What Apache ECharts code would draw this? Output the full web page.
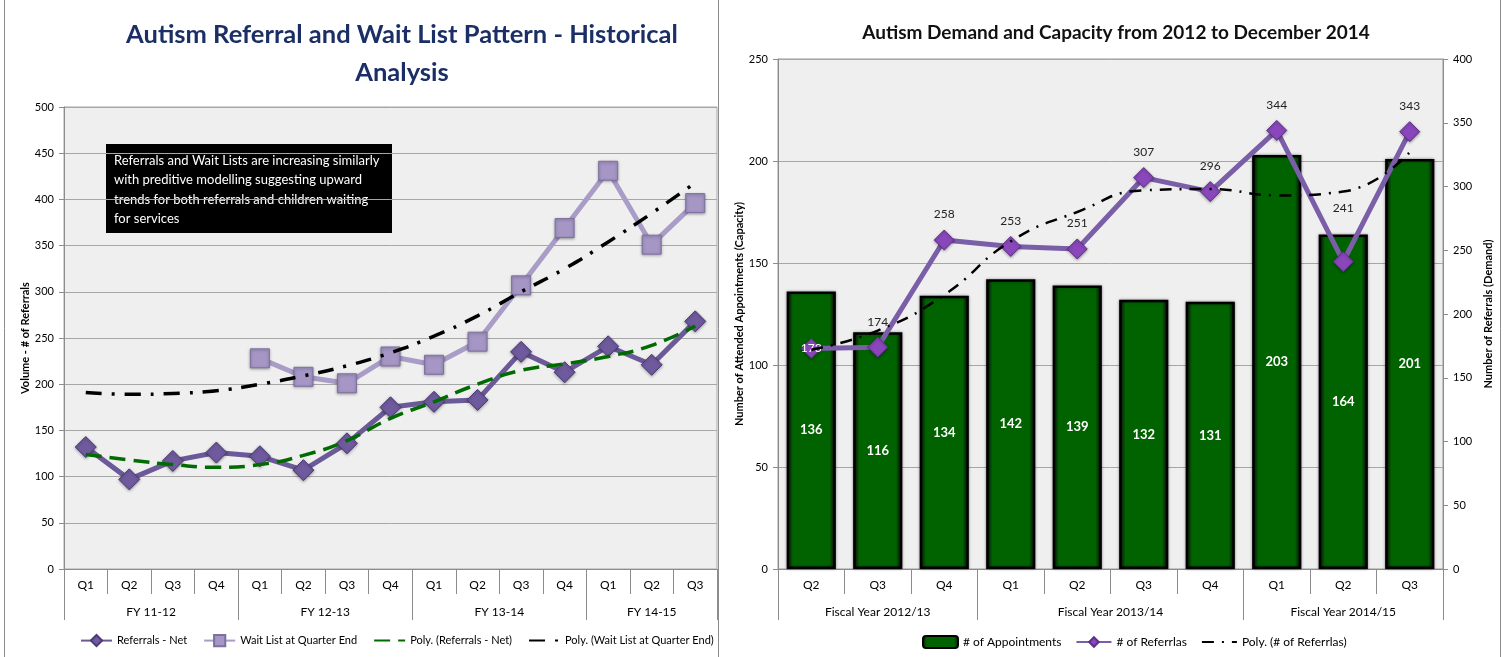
<!DOCTYPE html>
<html>
<head>
<meta charset="utf-8">
<script src="https://cdn.jsdelivr.net/npm/echarts@6/dist/echarts.min.js"></script>
<style>
html,body{margin:0;padding:0;background:#fff;}
#c{width:1506px;height:657px;}
</style>
</head>
<body>
<div id="c"></div>
<script>
// ---------- Left chart data ----------
const leftTitle = 'Autism Referral and Wait List Pattern - Historical\nAnalysis';
const leftQuarters = ['Q1','Q2','Q3','Q4','Q1','Q2','Q3','Q4','Q1','Q2','Q3','Q4','Q1','Q2','Q3'];
const leftGroups = ['FY 11-12','FY 12-13','FY 13-14','FY 14-15'];
const leftGroupSizes = [4,4,4,3];
const referralsNet = [132,97,117,126,122,107,136,175,181,183,235,213,241,221,268];
const waitList = [null,null,null,null,228,208,201,230,221,246,307,369,431,351,396];
const polyReferrals = [124,118,113,110,113,123,139,163,181,200,215,222,230,242,263];
const polyWaitList = [191,189,190,193,200,209,220,234,252,274,300,325,354,385,418];
const leftYTicks = {min:0, max:500, interval:50};
const noteLines = ['Referrals and Wait Lists are increasing similarly','with preditive modelling suggesting upward','trends for both referrals and children waiting','for services'];

// ---------- Right chart data ----------
const rightTitle = 'Autism Demand and Capacity from 2012 to December 2014';
const rightQuarters = ['Q2','Q3','Q4','Q1','Q2','Q3','Q4','Q1','Q2','Q3'];
const rightGroups = ['Fiscal Year 2012/13','Fiscal Year 2013/14','Fiscal Year 2014/15'];
const rightGroupSizes = [3,4,3];
const appointments = [136,116,134,142,139,132,131,203,164,201];
const referralsCount = [173,174,258,253,251,307,296,344,241,343];
const polyReferralsCount = [172,187,215,257,280,297,298,293,296,327];
const rightYLeft = {min:0, max:250, interval:50};
const rightYRight = {min:0, max:400, interval:50};

const FONT = 'Lato, "Open Sans", sans-serif';

function groupInfo(sizes){
  const bounds=[0], centers=[];
  let acc=0;
  sizes.forEach(s=>{centers.push(acc+s/2); acc+=s; bounds.push(acc);});
  return {bounds, centers, total:acc};
}
const lg = groupInfo(leftGroupSizes);
const rg = groupInfo(rightGroupSizes);

function groupAxis(gridIndex, info, names){
  return {
    type:'value', gridIndex, min:0, max:info.total, position:'bottom',
    axisLine:{show:false}, splitLine:{show:false},
    axisTick:{show:true, customValues:info.bounds, length:51, lineStyle:{color:'#8c8c8c'}},
    axisLabel:{customValues:info.centers, margin:37, fontSize:12, color:'#000', fontFamily:FONT,
      formatter:(v)=>{const i=info.centers.findIndex(c=>Math.abs(c-v)<1e-6); return i>=0?names[i]:'';}}
  };
}
function catAxis(gridIndex, data){
  return {
    type:'category', gridIndex, data, boundaryGap:true,
    axisLine:{show:true, lineStyle:{color:'#8c8c8c'}},
    axisTick:{show:true, interval:0, length:25, lineStyle:{color:'#8c8c8c'}},
    axisLabel:{interval:0, margin:10, fontSize:12, color:'#000', fontFamily:FONT}
  };
}

const chart = echarts.init(document.getElementById('c'));
const barGradient = new echarts.graphic.LinearGradient(0,0,1,0,[
  {offset:0,color:'#000a00'},{offset:0.06,color:'#0a300a'},{offset:0.13,color:'#006300'},
  {offset:0.87,color:'#006300'},{offset:0.94,color:'#0a300a'},{offset:1,color:'#000a00'}]);

const hideSym = {opacity:0};

const option = {
  backgroundColor:'#ffffff',
  animation:false,
  title:[
    {text:leftTitle, left:397, top:11, textAlign:'center',
     textStyle:{fontFamily:FONT, fontSize:25.5, fontWeight:'bold', color:'#1b2f66', lineHeight:38}},
    {text:rightTitle, left:1111, top:18, textAlign:'center',
     textStyle:{fontFamily:FONT, fontSize:19, fontWeight:'bold', color:'#111'}}
  ],
  legend:[
    {data:['Referrals - Net','Wait List at Quarter End',
           {name:'Poly. (Referrals - Net)', itemStyle:hideSym},
           {name:'Poly. (Wait List at Quarter End)', itemStyle:hideSym}],
     left:75, top:629, itemWidth:31, itemHeight:14, itemGap:16,
     textStyle:{fontFamily:FONT, fontSize:11, color:'#000'}},
    {data:['# of Appointments','# of Referrlas',{name:'Poly. (# of Referrlas)', itemStyle:hideSym}],
     left:917, top:630, itemWidth:35, itemHeight:12, itemGap:14,
     textStyle:{fontFamily:FONT, fontSize:12, color:'#000'}}
  ],
  grid:[
    {left:64, right:789, top:107, bottom:88, show:true, backgroundColor:'#efefef', borderColor:'#a6a6a6', borderWidth:1},
    {left:778, right:63, top:59, bottom:88, show:true, backgroundColor:'#efefef', borderColor:'#999', borderWidth:1}
  ],
  xAxis:[
    catAxis(0, leftQuarters),
    groupAxis(0, lg, leftGroups),
    catAxis(1, rightQuarters),
    groupAxis(1, rg, rightGroups)
  ],
  yAxis:[
    {type:'value', gridIndex:0, min:leftYTicks.min, max:leftYTicks.max, interval:leftYTicks.interval,
     name:'Volume - # of Referrals', nameLocation:'middle', nameGap:30, nameRotate:90,
     nameTextStyle:{fontFamily:FONT, fontSize:11, fontWeight:'bold', color:'#000'},
     axisLine:{show:true, lineStyle:{color:'#8c8c8c'}}, axisTick:{show:true, length:5, lineStyle:{color:'#8c8c8c'}},
     axisLabel:{fontFamily:FONT, fontSize:11, color:'#000', margin:10},
     splitLine:{show:true, lineStyle:{color:'#a6a6a6'}}},
    {type:'value', gridIndex:1, min:rightYLeft.min, max:rightYLeft.max, interval:rightYLeft.interval,
     name:'Number of Attended Appointments (Capacity)', nameLocation:'middle', nameGap:32, nameRotate:90,
     nameTextStyle:{fontFamily:FONT, fontSize:11, fontWeight:'bold', color:'#000'},
     axisLine:{show:true, lineStyle:{color:'#8c8c8c'}}, axisTick:{show:true, length:5, lineStyle:{color:'#8c8c8c'}},
     axisLabel:{fontFamily:FONT, fontSize:11, color:'#000', margin:10},
     splitLine:{show:true, lineStyle:{color:'#a6a6a6'}}},
    {type:'value', gridIndex:1, position:'right', min:rightYRight.min, max:rightYRight.max, interval:rightYRight.interval,
     name:'Number of Referrals (Demand)', nameLocation:'middle', nameGap:40, nameRotate:90,
     nameTextStyle:{fontFamily:FONT, fontSize:11, fontWeight:'bold', color:'#000'},
     axisLine:{show:true, lineStyle:{color:'#8c8c8c'}}, axisTick:{show:true, length:5, lineStyle:{color:'#8c8c8c'}},
     axisLabel:{fontFamily:FONT, fontSize:11, color:'#000', margin:10},
     splitLine:{show:false}}
  ],
  series:[
    {name:'Referrals - Net', type:'line', xAxisIndex:0, yAxisIndex:0, data:referralsNet,
     symbol:'diamond', symbolSize:21, z:5,
     lineStyle:{color:'#6c5a98', width:5},
     itemStyle:{color:'#6f5a9e', borderColor:'#4b3a74', borderWidth:1, shadowColor:'rgba(0,0,0,0.35)', shadowBlur:3, shadowOffsetY:1}},
    {name:'Wait List at Quarter End', type:'line', xAxisIndex:0, yAxisIndex:0, data:waitList,
     symbol:'rect', symbolSize:19, z:4,
     lineStyle:{color:'#a99cc6', width:5},
     itemStyle:{color:'#a596c6', borderColor:'#7d709f', borderWidth:1, shadowColor:'rgba(0,0,0,0.35)', shadowBlur:3, shadowOffsetY:1}},
    {name:'Poly. (Referrals - Net)', type:'line', xAxisIndex:0, yAxisIndex:0, data:polyReferrals,
     smooth:true, symbol:'none', z:6,
     lineStyle:{color:'#006b00', width:3.5, type:[16,8]},
     itemStyle:{color:'#006b00'}},
    {name:'Poly. (Wait List at Quarter End)', type:'line', xAxisIndex:0, yAxisIndex:0, data:polyWaitList,
     smooth:true, symbol:'none', z:6,
     lineStyle:{color:'#000', width:3.5, type:[16,10,3,10]},
     itemStyle:{color:'#000'}},

    {name:'# of Appointments', type:'bar', xAxisIndex:2, yAxisIndex:1, data:appointments,
     barWidth:'74%', z:2,
     itemStyle:{color:barGradient, borderColor:'#000', borderWidth:2.5, shadowColor:'rgba(0,0,0,0.4)', shadowBlur:3},
     label:{show:true, position:'inside', color:'#fff', fontWeight:'bold', fontSize:13, fontFamily:FONT}},
    {name:'# of Referrlas', type:'line', xAxisIndex:2, yAxisIndex:2,
     data:referralsCount.map((v,i)=> i===0 ? {value:v, label:{position:'inside', color:'#fff'}} : v),
     symbol:'diamond', symbolSize:20, z:6,
     lineStyle:{color:'#7a5ea8', width:5},
     itemStyle:{color:'#8a47bb', borderColor:'#5e2f86', borderWidth:1, shadowColor:'rgba(0,0,0,0.35)', shadowBlur:3, shadowOffsetY:1},
     label:{show:true, position:'top', distance:8, color:'#222', fontSize:12, lineHeight:14, fontFamily:FONT,
       formatter:(p)=> p.dataIndex===8 ? (p.value + '\n \n ') : String(p.value)}},
    {name:'Poly. (# of Referrlas)', type:'line', xAxisIndex:2, yAxisIndex:2, data:polyReferralsCount,
     smooth:true, symbol:'none', z:7,
     lineStyle:{color:'#000', width:2.5, type:[12,8,2,8]},
     itemStyle:{color:'#000'}}
  ],
  graphic:[
    {type:'line', shape:{x1:4.5,y1:0,x2:4.5,y2:657}, style:{stroke:'#8c8c8c', lineWidth:1}, silent:true},
    {type:'line', shape:{x1:718.5,y1:0,x2:718.5,y2:657}, style:{stroke:'#8c8c8c', lineWidth:1}, silent:true},
    {type:'line', shape:{x1:1500.5,y1:0,x2:1500.5,y2:657}, style:{stroke:'#8c8c8c', lineWidth:1}, silent:true},
    {type:'group', left:106, top:144, z:20, children:[
      {type:'rect', shape:{x:0,y:0,width:286,height:89}, style:{fill:'#000'}},
      {type:'text', x:8, y:7, style:{text:noteLines.join('\n'), fill:'#fff', font:'13px '+FONT, lineHeight:19.5}}
    ]}
  ]
};
chart.setOption(option);
</script>
</body>
</html>
